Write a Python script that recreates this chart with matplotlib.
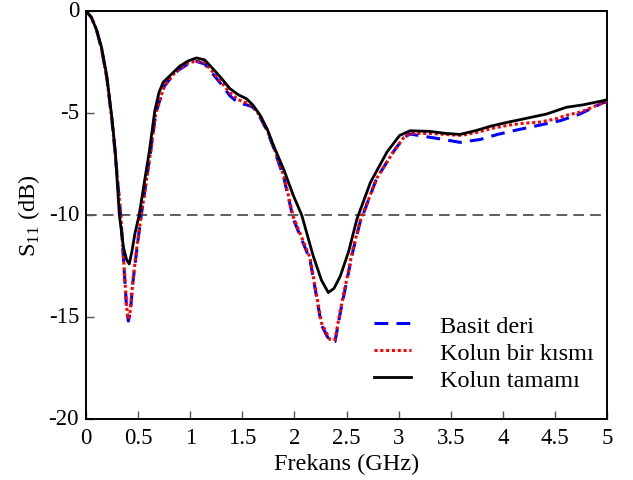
import matplotlib
matplotlib.use('Agg')
import matplotlib.pyplot as plt
import matplotlib.transforms as mtransforms

plt.rcParams['font.family'] = ['Liberation Serif', 'DejaVu Serif']
plt.rcParams['mathtext.fontset'] = 'custom'
plt.rcParams['mathtext.rm'] = 'Liberation Serif'
plt.rcParams['axes.unicode_minus'] = False

# Frekans (GHz) ve S11 (dB) - okunan degerler
f_basit = [0, 0.05, 0.1, 0.15, 0.2, 0.25, 0.28, 0.333, 0.37, 0.39, 0.406, 0.425, 0.45, 0.49, 0.53,
           0.58, 0.62, 0.67, 0.75, 0.84, 0.90, 0.98, 1.06, 1.14, 1.22, 1.30, 1.38, 1.46, 1.54,
           1.60, 1.67, 1.74, 1.80, 1.90, 1.99, 2.07, 2.15, 2.26, 2.34, 2.39, 2.44, 2.50, 2.56,
           2.63, 2.79, 2.95, 3.05, 3.11, 3.25, 3.40, 3.59, 3.78, 3.95, 4.10, 4.33, 4.55, 4.74,
           4.96, 5.0]
s_basit = [0, -0.3, -0.9, -1.9, -3.3, -5.4, -7.0, -10.0, -13.0, -14.6, -15.2, -14.8, -13.3, -11.6,
           -10.0, -8.3, -6.9, -5.0, -3.7, -3.1, -2.85, -2.6, -2.47, -2.6, -3.1, -3.6, -4.15, -4.5,
           -4.6, -4.7, -5.2, -5.9, -6.7, -8.2, -10.2, -11.2, -12.2, -15.4, -16.2, -16.2, -14.8,
           -13.3, -11.8, -10.36, -8.2, -6.9, -6.2, -6.03, -6.15, -6.27, -6.44, -6.3, -6.05, -5.87,
           -5.62, -5.38, -5.05, -4.5, -4.45]

f_bir = [0, 0.05, 0.1, 0.15, 0.2, 0.25, 0.28, 0.333, 0.37, 0.39, 0.406, 0.425, 0.45, 0.49, 0.53,
         0.58, 0.62, 0.67, 0.75, 0.84, 0.90, 0.98, 1.06, 1.14, 1.22, 1.30, 1.38, 1.46, 1.54,
         1.60, 1.67, 1.74, 1.80, 1.90, 1.99, 2.07, 2.15, 2.26, 2.34, 2.39, 2.44, 2.50, 2.56,
         2.63, 2.79, 2.95, 3.05, 3.11, 3.30, 3.45, 3.60, 3.75, 3.90, 4.05, 4.20, 4.35, 4.50,
         4.62, 4.75, 4.96, 5.0]
s_bir = [0, -0.3, -0.9, -1.9, -3.3, -5.4, -7.0, -10.0, -12.9, -14.5, -15.1, -14.7, -13.2, -11.5,
         -10.0, -8.3, -6.9, -5.0, -3.7, -3.1, -2.8, -2.55, -2.45, -2.55, -3.0, -3.5, -4.0, -4.35,
         -4.5, -4.65, -5.15, -5.85, -6.65, -8.1, -10.1, -11.1, -12.1, -15.3, -16.1, -16.1, -14.7,
         -13.2, -11.7, -10.3, -8.2, -6.9, -6.2, -6.0, -6.0, -6.05, -6.1, -5.95, -5.75, -5.6,
         -5.5, -5.45, -5.3, -5.1, -4.95, -4.5, -4.45]

f_tam = [0, 0.05, 0.1, 0.15, 0.2, 0.25, 0.28, 0.32, 0.36, 0.39, 0.415, 0.44, 0.47, 0.51, 0.56,
         0.61, 0.66, 0.70, 0.74, 0.84, 0.90, 0.98, 1.06, 1.14, 1.22, 1.30, 1.38, 1.46, 1.54, 1.60,
         1.67, 1.74, 1.80, 1.90, 1.99, 2.07, 2.18, 2.26, 2.325, 2.38, 2.44, 2.52, 2.60, 2.73,
         2.89, 3.01, 3.11, 3.30, 3.45, 3.59, 3.75, 3.88, 4.05, 4.19, 4.42, 4.61, 4.77, 4.96, 5.0]
s_tam = [0, -0.3, -0.9, -1.8, -3.2, -5.3, -6.8, -10.0, -11.6, -12.2, -12.4, -11.8, -10.9, -10.0,
         -8.4, -6.8, -4.9, -4.0, -3.5, -3.0, -2.7, -2.45, -2.3, -2.4, -2.84, -3.3, -3.8, -4.1, -4.3,
         -4.6, -5.1, -5.8, -6.6, -7.8, -9.05, -10.0, -12.0, -13.2, -13.8, -13.6, -13.0, -11.8,
         -10.2, -8.4, -6.9, -6.1, -5.87, -5.9, -6.0, -6.05, -5.85, -5.65, -5.45, -5.3, -5.05,
         -4.72, -4.6, -4.4, -4.35]

esik = -10
xticks = [0, 0.5, 1, 1.5, 2, 2.5, 3, 3.5, 4, 4.5, 5]
xticklabels = ['0', '0.5', '1', '1.5', '2', '2.5', '3', '3.5', '4', '4.5', '5']
yticks = [0, -5, -10, -15, -20]

fig = plt.figure(figsize=(6.33, 4.81), dpi=100)
ax = fig.add_axes([86/633, 1-420/481, 521/633, 408/481])

ax.axhline(esik, color='#333333', lw=1.1, dashes=(7, 4), zorder=1)
ax.plot(f_basit, s_basit, color='#0000ff', lw=2.2, dashes=(4.5, 2.7), label='Basit deri', zorder=2)
ax.plot(f_bir, s_bir, color='#ff0000', lw=2.2, dashes=(1, 0.9), label='Kolun bir kısmı', zorder=3)
ax.plot(f_tam, s_tam, color='black', lw=2.0, label='Kolun tamamı', zorder=4)

ax.set_xlim(0, 5)
ax.set_ylim(-20, 0)
ax.set_xticks(xticks)
ax.set_xticklabels(xticklabels)
ax.set_yticks(yticks)
ax.tick_params(direction='in', length=6, width=1, color='#555555', labelsize=16.5)
ax.tick_params(axis='x', pad=6)
ax.tick_params(axis='y', pad=5)
for s in ax.spines.values():
    s.set_linewidth(1.4)

# y etiketleri biraz yukari
kaydir = mtransforms.ScaledTranslation(0, 3/100, fig.dpi_scale_trans)
for lbl in ax.get_yticklabels():
    lbl.set_transform(lbl.get_transform() + kaydir)

ax.set_xlabel('Frekans (GHz)', fontsize=17.5, labelpad=3)
ax.set_ylabel('S$_{11}$ (dB)', fontsize=17.5, labelpad=5)

leg = ax.legend(loc='upper left', bbox_to_anchor=(0.53, 0.285), frameon=False, fontsize=17.5,
                handlelength=1.5, handletextpad=1.2, labelspacing=0.2, borderpad=0)

fig.savefig('out.png', dpi=100)
